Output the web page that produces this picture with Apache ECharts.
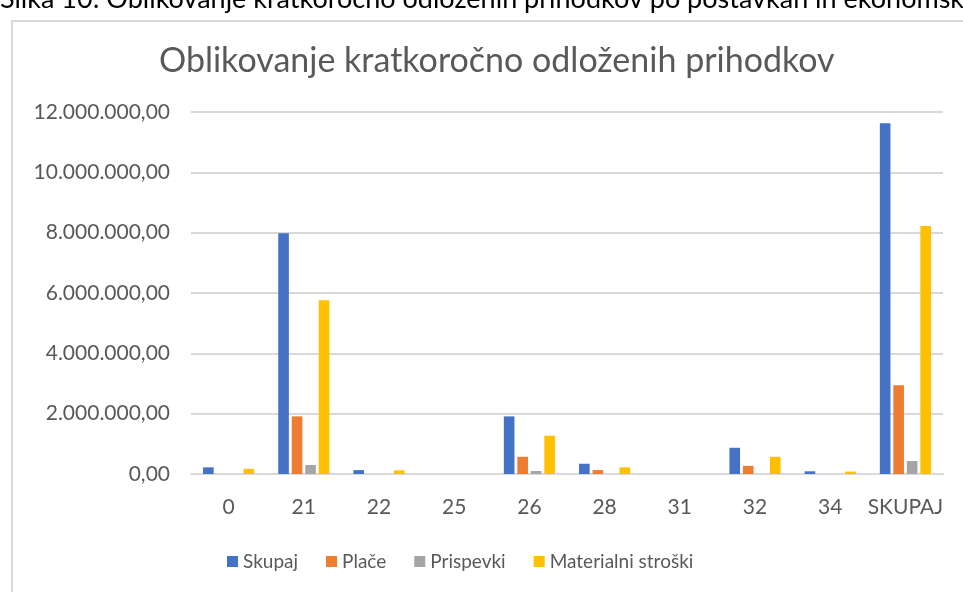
<!DOCTYPE html>
<html>
<head>
<meta charset="utf-8">
<script src="https://cdn.jsdelivr.net/npm/echarts@6/dist/echarts.min.js"></script>
<style>
  html, body { margin: 0; padding: 0; background: #fff; }
  #chart { width: 963px; height: 592px; }
</style>
</head>
<body>
<div id="chart"></div>
<script>
const categories = ["0", "21", "22", "25", "26", "28", "31", "32", "34", "SKUPAJ"];
const seriesNames = ["Skupaj", "Plače", "Prispevki", "Materialni stroški"];
const skupaj = [220000, 7980000, 130000, 0, 1910000, 340000, 0, 870000, 90000, 11630000];
const place = [0, 1910000, 0, 0, 570000, 130000, 0, 270000, 0, 2940000];
const prispevki = [0, 300000, 0, 0, 100000, 0, 0, 0, 0, 430000];
const materialni = [170000, 5760000, 120000, 0, 1270000, 220000, 0, 570000, 80000, 8220000];
const colors = ["#4472C4", "#ED7D31", "#A5A5A5", "#FFC000"];

const font = "Lato, 'Noto Sans', sans-serif";

function fmt(v) {
  const parts = v.toFixed(2).split(".");
  return parts[0].replace(/\B(?=(\d{3})+(?!\d))/g, ".") + "," + parts[1];
}

const allData = [skupaj, place, prispevki, materialni];

const option = {
  animation: false,
  textStyle: { fontFamily: font },
  color: colors,
  title: {
    text: "Oblikovanje kratkoročno odloženih prihodkov",
    left: 154,
    top: 39,
    textStyle: { fontSize: 34, fontWeight: "normal", color: "#595959", fontFamily: font },
  },
  graphic: [
    {
      type: "text",
      left: 0,
      top: -14,
      style: {
        text: "Slika 10: Oblikovanje kratkoročno odloženih prihodkov po postavkah in ekonomskih namenih",
        fontSize: 27,
        fontFamily: font,
        fill: "#000",
      },
    },
    {
      type: "rect",
      shape: { x: 12, y: 21, width: 1000, height: 600 },
      style: { fill: "none", stroke: "#d9d9d9", lineWidth: 2 },
      z: -1,
    },
  ],
  legend: {
    top: 547,
    left: 222,
    itemWidth: 11,
    itemHeight: 11,
    itemGap: 28,
    icon: "rect",
    textStyle: { fontSize: 19, color: "#595959", fontFamily: font },
    data: seriesNames,
  },
  grid: { left: 191, right: 20, top: 112, bottom: 118 },
  xAxis: {
    type: "category",
    data: categories,
    axisLine: { lineStyle: { color: "#d9d9d9", width: 2 } },
    axisTick: { show: false },
    axisLabel: { fontSize: 21, color: "#595959", margin: 23, interval: 0, fontFamily: font },
  },
  yAxis: {
    type: "value",
    min: 0,
    max: 12000000,
    interval: 2000000,
    axisLine: { show: false },
    axisTick: { show: false },
    splitLine: { lineStyle: { color: "#d9d9d9", width: 2 } },
    axisLabel: { fontSize: 21, color: "#595959", margin: 21, formatter: fmt, fontFamily: font },
  },
  series: seriesNames.map((name, i) => ({
    name: name,
    type: "bar",
    data: allData[i],
    barGap: "27%",
    barCategoryGap: "32%",
    itemStyle: { color: colors[i] },
  })),
};

const chart = echarts.init(document.getElementById("chart"));
chart.setOption(option);
</script>
</body>
</html>
